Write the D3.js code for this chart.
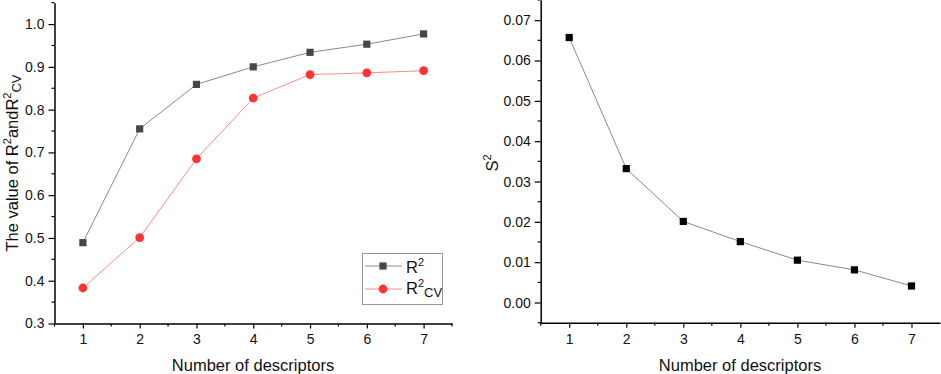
<!DOCTYPE html>
<html><head><meta charset="utf-8">
<script src="https://cdn.jsdelivr.net/npm/d3@7"></script>
<style>body{margin:0;background:#fff}svg{display:block}text{font-family:"Liberation Sans",Arial,sans-serif}</style>
</head><body><svg id="c" width="941" height="374"></svg>
<script>
const descriptors = [1,2,3,4,5,6,7];
const r2 = [0.489,0.755,0.859,0.900,0.934,0.953,0.977];
const r2cv = [0.383,0.501,0.685,0.827,0.882,0.886,0.891];
const s2 = [0.0657,0.0332,0.0201,0.0151,0.0105,0.0081,0.0041];
const leftYTicks = [0.3,0.4,0.5,0.6,0.7,0.8,0.9,1.0];
const rightYTicks = [0.00,0.01,0.02,0.03,0.04,0.05,0.06,0.07];

const svg = d3.select("#c");

function axes(g, x, y, yTicks, yMinor, fmt, xMinor){
  const [x0,x1]=x.range(), [y0,y1]=y.range();
  const xa = g.append("g").attr("transform",`translate(0,${y0})`);
  xa.call(d3.axisBottom(x).tickValues(descriptors).tickSize(5).tickSizeOuter(0).tickPadding(6).tickFormat(d3.format("d")));
  xa.append("g").selectAll("line").data(xMinor).join("line")
    .attr("x1",d=>x(d)).attr("x2",d=>x(d)).attr("y1",0).attr("y2",3).attr("stroke","#000").attr("stroke-width",1.2);
  const ya = g.append("g").attr("transform",`translate(${x0},0)`);
  ya.call(d3.axisLeft(y).tickValues(yTicks).tickSize(6).tickSizeOuter(0).tickPadding(4).tickFormat(fmt));
  ya.append("g").selectAll("line").data(yMinor).join("line")
    .attr("y1",d=>y(d)).attr("y2",d=>y(d)).attr("x1",0).attr("x2",-3).attr("stroke","#000").attr("stroke-width",1.2);
  g.selectAll(".domain").attr("stroke","#000").attr("stroke-width",1.5);
  g.selectAll(".tick line").attr("stroke","#000").attr("stroke-width",1.2);
  g.selectAll(".tick text").attr("font-size",14).attr("fill","#111").style("font-family","'Liberation Sans',Arial,sans-serif");
}

// Left chart
const xL = d3.scaleLinear().domain([0.5,7.5]).range([54.5,452]);
const yL = d3.scaleLinear().domain([0.3,1.05]).range([323.5,2.7]);
const gL = svg.append("g");
axes(gL, xL, yL, leftYTicks, d3.range(0.35,1.06,0.1), d3.format(".1f"), [0.5,1.5,2.5,3.5,4.5,5.5,6.5,7.5]);

const line = (x,y)=>d3.line().x((d,i)=>x(descriptors[i])).y(d=>y(d));
gL.append("path").datum(r2).attr("d",line(xL,yL)).attr("fill","none").attr("stroke","#8a8a8a").attr("stroke-width",1);
gL.append("path").datum(r2cv).attr("d",line(xL,yL)).attr("fill","none").attr("stroke","#ff8a8a").attr("stroke-width",1);
gL.selectAll(".sq").data(r2).join("rect").attr("x",(d,i)=>xL(descriptors[i])-3.6).attr("y",d=>yL(d)-3.6)
  .attr("width",7.2).attr("height",7.2).attr("fill","#474747");
gL.selectAll(".ci").data(r2cv).join("circle").attr("cx",(d,i)=>xL(descriptors[i])).attr("cy",d=>yL(d)).attr("r",4.4).attr("fill","#ff3333");

const ylab = gL.append("text").attr("transform","translate(18,163) rotate(-90)").attr("text-anchor","middle").attr("font-size",16.5).attr("fill","#111");
ylab.append("tspan").text("The value of R");
ylab.append("tspan").attr("font-size",11).attr("dy",-7).text("2");
ylab.append("tspan").attr("dy",7).text("andR");
ylab.append("tspan").attr("font-size",11).attr("dy",-7).text("2");
ylab.append("tspan").attr("font-size",13).attr("dy",10).text("CV");

gL.append("text").attr("x",253).attr("y",371).attr("text-anchor","middle").attr("font-size",16.5).attr("fill","#111").text("Number of descriptors");

// legend
const lg = gL.append("g");
lg.append("rect").attr("x",362.5).attr("y",253.5).attr("width",80).attr("height",51).attr("fill","#fff").attr("stroke","#999").attr("stroke-width",1);
lg.append("line").attr("x1",365).attr("x2",402).attr("y1",266).attr("y2",266).attr("stroke","#8a8a8a");
lg.append("rect").attr("x",383-3.6).attr("y",266-3.6).attr("width",7.2).attr("height",7.2).attr("fill","#474747");
lg.append("line").attr("x1",365).attr("x2",402).attr("y1",289).attr("y2",289).attr("stroke","#ff8a8a");
lg.append("circle").attr("cx",383).attr("cy",289).attr("r",4.4).attr("fill","#ff3333");
const t1 = lg.append("text").attr("x",406).attr("y",273).attr("font-size",16.5).attr("fill","#111");
t1.append("tspan").text("R"); t1.append("tspan").attr("font-size",11).attr("dy",-7).text("2");
const t2 = lg.append("text").attr("x",406).attr("y",294).attr("font-size",16.5).attr("fill","#111");
t2.append("tspan").text("R"); t2.append("tspan").attr("font-size",11).attr("dy",-7).text("2");
t2.append("tspan").attr("font-size",13).attr("dy",10).text("CV");

// Right chart
const xR = d3.scaleLinear().domain([0.5,7.5]).range([540.7,940]);
const yR = d3.scaleLinear().domain([-0.005,0.075]).range([322.7,0]);
const gR = svg.append("g");
axes(gR, xR, yR, rightYTicks, d3.range(-0.005,0.0751,0.01), d3.format(".2f"), [0.5,1.5,2.5,3.5,4.5,5.5,6.5]);
gR.append("path").datum(s2).attr("d",line(xR,yR)).attr("fill","none").attr("stroke","#8a8a8a").attr("stroke-width",1);
gR.selectAll(".sq").data(s2).join("rect").attr("x",(d,i)=>xR(descriptors[i])-3.6).attr("y",d=>yR(d)-3.6)
  .attr("width",7.2).attr("height",7.2).attr("fill","#000");
const ylR = gR.append("text").attr("transform","translate(498,163) rotate(-90)").attr("text-anchor","middle").attr("font-size",16.5).attr("fill","#111");
ylR.append("tspan").text("S"); ylR.append("tspan").attr("font-size",11).attr("dy",-7).text("2");
gR.append("text").attr("x",740).attr("y",371).attr("text-anchor","middle").attr("font-size",16.5).attr("fill","#111").text("Number of descriptors");
</script></body></html>
